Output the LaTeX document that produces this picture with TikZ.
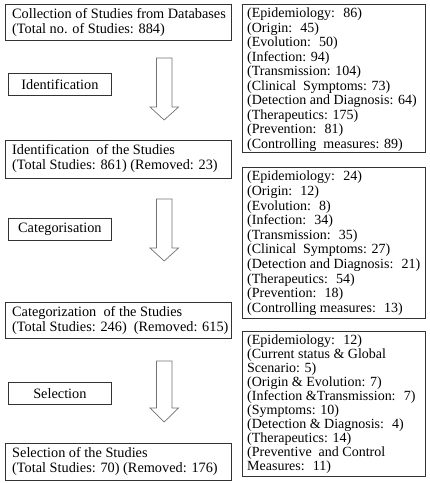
\documentclass[tikz,border=0pt]{standalone}
\usepackage{fontspec}
\setmainfont{Liberation Serif}
\begin{document}
\begin{tikzpicture}[x=1pt,y=-1pt,
  every node/.style={font=\fontsize{14.3}{14.8}\selectfont},
  framebox/.style={draw=black!80, line width=0.8pt, anchor=north west, inner sep=0pt},
  labelbox/.style={draw=black!80, line width=0.8pt, anchor=north west, minimum width=103pt, minimum height=22pt, inner sep=0pt},
  txt/.style={anchor=north west, align=left, inner sep=0pt},
  blockarrow/.style={draw=black!55, line width=0.7pt, fill=white}
]
\useasboundingbox (0,0) rectangle (430,483);
% main boxes
\node[framebox, minimum width=226pt, minimum height=36pt] (b1) at (5,4) {};
\node[txt] (t1) at (12,8) {Collection of Studies from Databases\\(Total no. of Studies: 884)};
\node[framebox, minimum width=226pt, minimum height=38pt] (b2) at (5,140) {};
\node[txt] (t2) at (12,144) {Identification \ of the Studies\\(Total Studies: 861) (Removed: 23)};
\node[framebox, minimum width=226pt, minimum height=36pt] (b3) at (5,302) {};
\node[txt] (t3) at (12,306) {Categorization \ of the Studies\\(Total Studies: 246) \ (Removed: 615)};
\node[framebox, minimum width=226pt, minimum height=37pt] (b4) at (5,443) {};
\node[txt] (t4) at (12,447) {Selection of the Studies\\(Total Studies: 70) (Removed: 176)};
% label boxes
\node[labelbox] (l1) at (8,73) {Identification};
\node[labelbox] (l2) at (8,218) {Categorisation};
\node[labelbox] (l3) at (8,382) {Selection};
% block arrows
\foreach \top/\head/\tip in {58/107/120, 199/248/261, 361/408/422}{
  \draw[blockarrow] (156.5,\top) -- (172,\top) -- (172,\head) -- (178.5,\head) -- (164.2,\tip) -- (150,\head) -- (156.5,\head) -- cycle;
}
% panels
\node[framebox, minimum width=183pt, minimum height=148pt] (p1) at (242,4) {};
\node[txt, font=\fontsize{14}{14.5}\selectfont] (pt1) at (247,8) {(Epidemiology: \ 86)\\(Origin: \ 45)\\(Evolution: \ 50)\\(Infection: 94)\\(Transmission: 104)\\(Clinical \ Symptoms: 73)\\(Detection and Diagnosis: 64)\\(Therapeutics: 175)\\(Prevention: \ 81)\\(Controlling \ measures: 89)};
\node[framebox, minimum width=183pt, minimum height=151pt] (p2) at (242,167) {};
\node[txt, font=\fontsize{14}{14.6}\selectfont] (pt2) at (247,171) {(Epidemiology: \ 24)\\(Origin: \ 12)\\(Evolution: \ 8)\\(Infection: \ 34)\\(Transmission: \ 35)\\(Clinical \ Symptoms: 27)\\(Detection and Diagnosis: \ 21)\\(Therapeutics: \ 54)\\(Prevention: \ 18)\\(Controlling measures: \ 13)};
\node[framebox, minimum width=183pt, minimum height=145pt] (p3) at (242,331) {};
\node[txt, font=\fontsize{14}{14}\selectfont] (pt3) at (247,335) {(Epidemiology: \ 12)\\(Current status \& Global\\Scenario: 5)\\(Origin \& Evolution: 7)\\(Infection \&Transmission: \ 7)\\(Symptoms: 10)\\(Detection \& Diagnosis: \ 4)\\(Therapeutics: 14)\\(Preventive \ and Control\\Measures: \ 11)};
\end{tikzpicture}
\end{document}
